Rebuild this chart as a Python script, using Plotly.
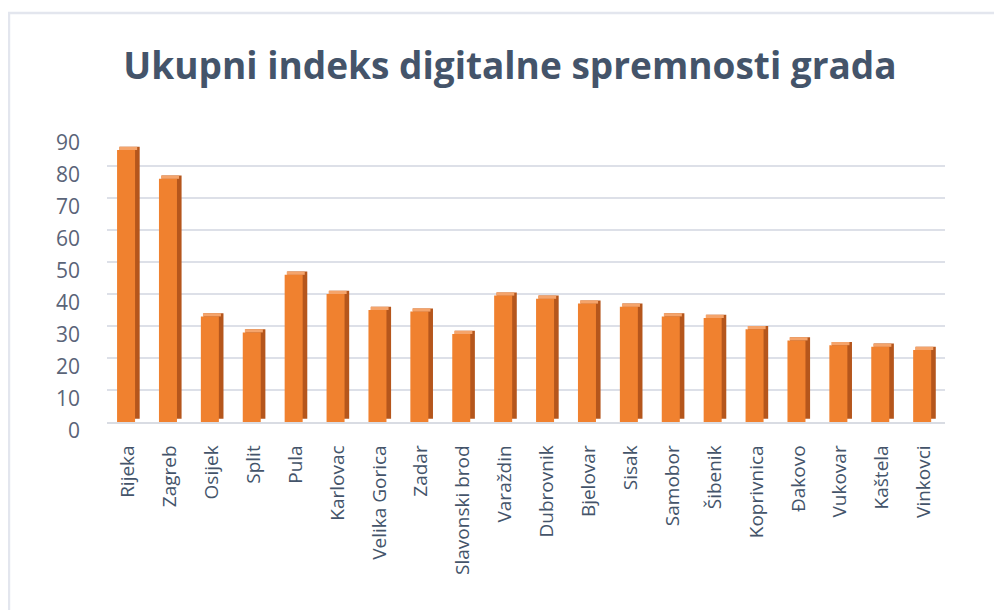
import plotly.graph_objects as go

gradovi = ["Rijeka", "Zagreb", "Osijek", "Split", "Pula", "Karlovac", "Velika Gorica",
           "Zadar", "Slavonski brod", "Varaždin", "Dubrovnik", "Bjelovar", "Sisak",
           "Samobor", "Šibenik", "Koprivnica", "Đakovo", "Vukovar", "Kaštela", "Vinkovci"]
indeks = [85, 76, 33, 28, 46, 40, 35, 34.5, 27.5, 39.5, 38.5, 37, 36,
          33, 32.5, 29, 25.5, 24, 23.5, 22.5]
y_ticks = [0, 10, 20, 30, 40, 50, 60, 70, 80, 90]

title_text = "Ukupni indeks digitalne spremnosti grada"

depth = 1.0  # pseudo-3D depth in value units

fig = go.Figure()
# side face (darker), shifted right and up
fig.add_trace(go.Bar(
    x=gradovi, y=indeks, base=[depth] * len(indeks),
    offset=-0.2, width=0.48,
    marker=dict(color="#B5561C", line=dict(width=0)),
    hoverinfo="skip", showlegend=False,
))
# front face
fig.add_trace(go.Bar(
    x=gradovi, y=indeks,
    offset=-0.26, width=0.43,
    marker=dict(color="#F0812F", line=dict(width=0)),
    showlegend=False,
))
# top face (lighter)
fig.add_trace(go.Bar(
    x=gradovi, y=[depth] * len(indeks), base=indeks,
    offset=-0.21, width=0.43,
    marker=dict(color="#F5A46B", line=dict(width=0)),
    hoverinfo="skip", showlegend=False,
))

fig.update_layout(
    width=994, height=602,
    barmode="overlay",
    paper_bgcolor="white", plot_bgcolor="white",
    margin=dict(l=99, r=57, t=126, b=188),
    title=dict(
        text=title_text, x=0.505, xanchor="center", y=0.904, yanchor="middle",
        font=dict(family="Open Sans", size=37, color="#44546A", weight="bold"),
    ),
    xaxis=dict(
        type="category", tickangle=-90, showgrid=False,
        showline=True, linecolor="#D9DCE3", linewidth=1.5,
        ticks="", ticklabelstandoff=14,
        tickfont=dict(family="Open Sans", size=19, color="#44546A"),
    ),
    yaxis=dict(
        range=[0, 90], tickvals=y_ticks,
        showgrid=True, gridcolor="#DDE0E8", gridwidth=1.5,
        zeroline=False, showline=False, ticks="",
        ticklabelstandoff=26, ticklabelshift=9,
        tickfont=dict(family="Open Sans", size=21, color="#5A6478"),
    ),
    shapes=[dict(
        type="rect", xref="paper", yref="paper",
        x0=-0.117, x1=1.2, y0=-0.8, y1=1.42,
        line=dict(color="#E3E6EE", width=2.5), fillcolor="rgba(0,0,0,0)",
        layer="below",
    )],
)

fig.write_html("out.html")
